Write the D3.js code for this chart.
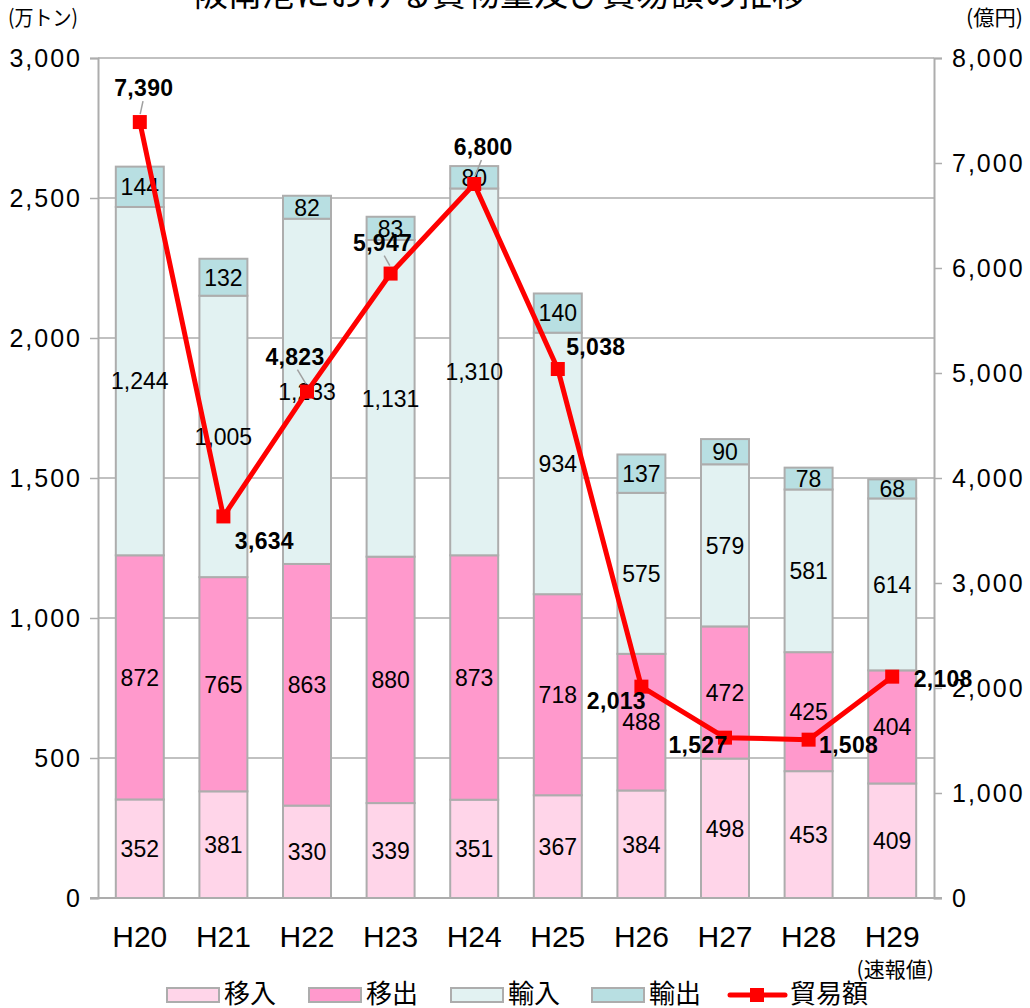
<!DOCTYPE html>
<html><head><meta charset="utf-8">
<script src="https://cdn.jsdelivr.net/npm/d3@7"></script>
<style>body{margin:0;background:#fff}svg{display:block}</style>
</head><body>
<svg id="c" width="1030" height="1008"></svg>
<script>
const categories = ["H20","H21","H22","H23","H24","H25","H26","H27","H28","H29"];
const inbound   = [352,381,330,339,351,367,384,498,453,409];   // 移入
const outbound  = [872,765,863,880,873,718,488,472,425,404];   // 移出
const imports   = [1244,1005,1233,1131,1310,934,575,579,581,614]; // 輸入
const exports_  = [144,132,82,83,80,140,137,90,78,68];         // 輸出
const tradeValue = [7390,3634,4823,5947,6800,5038,2013,1527,1508,2108]; // 貿易額
const seriesNames = ["移入","移出","輸入","輸出"];
const lineName = "貿易額";
const leftTicks = [0,500,1000,1500,2000,2500,3000];
const rightTicks = [0,1000,2000,3000,4000,5000,6000,7000,8000];
const colors = ["#FFD5E9","#FF99CC","#E2F2F2","#B8DFE2"];
const labelOffsets = [[4,-34],[41,24],[-12,-35],[-8,-31],[9,-37],[38,-22],[-25,14],[-27,7],[40,5],[51,2]];
const leaders = [true,false,true,true,true,false,false,false,false,false];

const svg = d3.select("#c");
const L = 98, R = 934, T = 58, B = 898;
const x = d3.scaleBand().domain(categories).range([L,R]).paddingInner(0.426).paddingOuter(0.213);
const yL = d3.scaleLinear().domain([0,3000]).range([B,T]);
const yR = d3.scaleLinear().domain([0,8000]).range([B,T]);
const grey = "#ADADAD";
const fnum = d3.format(",");

// title (cut off at top, as in the reference)
svg.append("text").attr("x",500).attr("y",6).attr("text-anchor","middle")
  .attr("font-family","'Noto Sans CJK JP'").attr("font-size",34).attr("fill","#000")
  .text("阪南港における貨物量及び貿易額の推移");
svg.append("text").attr("x",8).attr("y",25).attr("font-family","'Noto Sans CJK JP'").attr("font-size",21)
  .attr("textLength",70).attr("lengthAdjust","spacingAndGlyphs").text("(万トン)");
svg.append("text").attr("x",1023).attr("y",25).attr("text-anchor","end").attr("font-family","'Noto Sans CJK JP'").attr("font-size",21)
  .attr("textLength",57).attr("lengthAdjust","spacingAndGlyphs").text("(億円)");

// grid
svg.append("g").selectAll("line").data(leftTicks.filter(d=>d>0)).join("line")
  .attr("x1",L).attr("x2",R).attr("y1",d=>yL(d)).attr("y2",d=>yL(d))
  .attr("stroke",grey).attr("stroke-width",1.5);

// axes
const axL = svg.append("g").attr("transform",`translate(${L},0)`)
  .call(d3.axisLeft(yL).tickValues(leftTicks).tickFormat(fnum).tickSize(8).tickPadding(8));
const axR = svg.append("g").attr("transform",`translate(${R},0)`)
  .call(d3.axisRight(yR).tickValues(rightTicks).tickFormat(fnum).tickSize(8).tickPadding(10));
[axL,axR].forEach(a=>{
  a.select(".domain").attr("stroke",grey).attr("stroke-width",2);
  a.selectAll(".tick line").attr("stroke",grey).attr("stroke-width",1.5);
  a.selectAll(".tick text").attr("font-family","'Liberation Sans',Arial").attr("font-size",25)
    .attr("fill","#000").attr("letter-spacing",2);
});
svg.append("line").attr("x1",L-8).attr("x2",R+8).attr("y1",B).attr("y2",B).attr("stroke",grey).attr("stroke-width",2);

// stacked bars
const rows = categories.map((c,i)=>({cat:c,"移入":inbound[i],"移出":outbound[i],"輸入":imports[i],"輸出":exports_[i]}));
const stack = d3.stack().keys(seriesNames)(rows);
const gb = svg.append("g");
stack.forEach((s,si)=>{
  gb.selectAll(null).data(s).join("rect")
    .attr("x",d=>x(d.data.cat)).attr("width",x.bandwidth())
    .attr("y",d=>yL(d[1])).attr("height",d=>yL(d[0])-yL(d[1]))
    .attr("fill",colors[si]).attr("stroke",grey).attr("stroke-width",2);
});
stack.forEach((s,si)=>{
  gb.selectAll(null).data(s).join("text")
    .attr("x",d=>x(d.data.cat)+x.bandwidth()/2).attr("y",d=>yL((d[0]+d[1])/2))
    .attr("dy","0.36em").attr("text-anchor","middle")
    .attr("font-family","'Liberation Sans',Arial").attr("font-size",23).attr("fill","#000")
    .text(d=>fnum(d[1]-d[0]));
});

// x labels
svg.append("g").selectAll("text").data(categories).join("text")
  .attr("x",d=>x(d)+x.bandwidth()/2).attr("y",947).attr("text-anchor","middle")
  .attr("font-family","'Liberation Sans',Arial").attr("font-size",30).attr("fill","#000").text(d=>d);
svg.append("text").attr("x",x("H29")+x.bandwidth()/2+3).attr("y",977).attr("text-anchor","middle")
  .attr("font-family","'Noto Sans CJK JP'").attr("font-size",21).text("(速報値)");

// line
const cx = i=>x(categories[i])+x.bandwidth()/2;
const line = d3.line().x((d,i)=>cx(i)).y(d=>yR(d));
svg.append("path").datum(tradeValue).attr("d",line).attr("fill","none")
  .attr("stroke","#FF0000").attr("stroke-width",5).attr("stroke-linejoin","round");
svg.append("g").selectAll("rect").data(tradeValue).join("rect")
  .attr("x",(d,i)=>cx(i)-7).attr("y",d=>yR(d)-7).attr("width",14).attr("height",14).attr("fill","#FF0000");

// leaders
svg.append("g").selectAll("line").data(tradeValue.map((d,i)=>({d,i})).filter(o=>leaders[o.i])).join("line")
  .attr("x1",o=>cx(o.i)+labelOffsets[o.i][0]*0.8).attr("y1",o=>yR(o.d)+labelOffsets[o.i][1]+13)
  .attr("x2",o=>cx(o.i)+labelOffsets[o.i][0]*0.1).attr("y2",o=>yR(o.d)-8)
  .attr("stroke","#A0A0A0").attr("stroke-width",1.5);

svg.append("g").selectAll("text").data(tradeValue).join("text")
  .attr("x",(d,i)=>cx(i)+labelOffsets[i][0]).attr("y",(d,i)=>yR(d)+labelOffsets[i][1])
  .attr("dy","0.36em").attr("text-anchor","middle")
  .attr("font-family","'Liberation Sans',Arial").attr("font-weight","bold").attr("font-size",23)
  .attr("letter-spacing",0.3).attr("fill","#000").text(d=>fnum(d));

// legend
const lg = svg.append("g");
const legX = [167,309,451,592];
seriesNames.forEach((n,i)=>{
  lg.append("rect").attr("x",legX[i]).attr("y",988).attr("width",52).attr("height",14)
    .attr("fill",colors[i]).attr("stroke",grey).attr("stroke-width",2);
  lg.append("text").attr("x",legX[i]+57).attr("y",1003).attr("font-family","'Noto Sans CJK JP'")
    .attr("font-size",26).attr("fill","#000").text(n);
});
lg.append("line").attr("x1",730).attr("x2",785).attr("y1",995).attr("y2",995).attr("stroke","#FF0000").attr("stroke-width",5).attr("stroke-linecap","round");
lg.append("rect").attr("x",750).attr("y",988).attr("width",14).attr("height",14).attr("fill","#FF0000");
lg.append("text").attr("x",790).attr("y",1003).attr("font-family","'Noto Sans CJK JP'")
  .attr("font-size",26).attr("fill","#000").text(lineName);
</script>
</body></html>
